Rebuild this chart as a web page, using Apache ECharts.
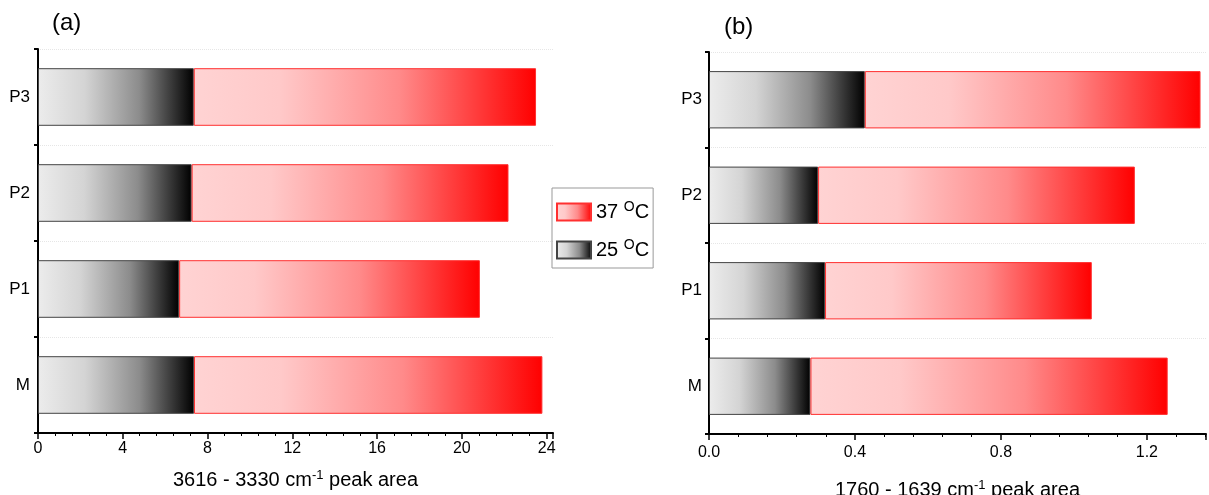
<!DOCTYPE html>
<html><head><meta charset="utf-8">
<script src="https://cdn.jsdelivr.net/npm/echarts@6/dist/echarts.min.js"></script>
<style>html,body{margin:0;padding:0;background:#fff}#c{width:1209px;height:495px}</style>
</head><body><div id="c"></div>
<script>
const categories = ['M', 'P1', 'P2', 'P3'];
// panel (a): 3616 - 3330 cm-1 peak area
const a25 = [7.36, 6.66, 7.25, 7.35];
const a37 = [23.8, 20.85, 22.2, 23.5];
// panel (b): 1760 - 1639 cm-1 peak area
const b25 = [0.278, 0.318, 0.299, 0.427];
const b37 = [1.257, 1.049, 1.167, 1.347];
const aTicks = [0, 4, 8, 12, 16, 20, 24];
const bTicks = [0.0, 0.4, 0.8, 1.2];

const FONT = 'Liberation Sans, Arial, sans-serif';
const grayGrad = new echarts.graphic.LinearGradient(0, 0, 1, 0, [
  {offset: 0, color: '#ececec'}, {offset: 0.3, color: '#d4d4d4'},
  {offset: 0.65, color: '#8c8c8c'}, {offset: 1, color: '#000000'}]);
const redGrad = new echarts.graphic.LinearGradient(0, 0, 1, 0, [
  {offset: 0, color: '#ffd3d3'}, {offset: 0.25, color: '#ffc9c9'},
  {offset: 0.6, color: '#ff8a8a'}, {offset: 1, color: '#ff0000'}]);

const seg = (tot, base) => tot.map((v, i) => +(v - base[i]).toFixed(4));

function xAx(idx, max, interval, fmt, name, gap, margin) {
  return {
    gridIndex: idx, type: 'value', min: 0, max: max, interval: interval,
    axisLine: {show: true, lineStyle: {color: '#000', width: 2}},
    axisTick: {show: true, length: 6, lineStyle: {color: '#000', width: 1.5}},
    minorTick: {show: true, splitNumber: 5, length: 3, lineStyle: {color: '#000', width: 1}},
    axisLabel: {show: true, showMaxLabel: false, color: '#000', fontSize: 16, fontFamily: FONT, margin: margin, formatter: fmt},
    splitLine: {show: false},
    name: name, nameLocation: 'middle', nameGap: gap,
    nameTextStyle: {color: '#000', fontSize: 20, fontFamily: FONT, rich: {sup: {fontSize: 13, fontFamily: FONT, color: '#000', verticalAlign: 'top', padding: [0, 0, 10, 0]}}}
  };
}
function yAx(idx, margin) {
  return {
    gridIndex: idx, type: 'category', data: categories,
    axisLine: {show: true, lineStyle: {color: '#000', width: 2}},
    axisTick: {show: true, length: 4, lineStyle: {color: '#000', width: 2}},
    axisLabel: {color: '#000', fontSize: 17, fontFamily: FONT, margin: margin},
    splitLine: {show: true, lineStyle: {color: '#e6e6e6', type: 'dotted', width: 1}}
  };
}
function bars(idx, v25, v37) {
  return [
    {name: '25 oC', type: 'bar', stack: 's' + idx, xAxisIndex: idx, yAxisIndex: idx, barWidth: '60%',
     data: v25, itemStyle: {color: grayGrad, borderColor: '#444', borderWidth: 1}},
    {name: '37 oC', type: 'bar', stack: 's' + idx, xAxisIndex: idx, yAxisIndex: idx, barWidth: '60%',
     data: seg(v37, v25), itemStyle: {color: redGrad, borderColor: '#ff3030', borderWidth: 1}}
  ];
}

const chart = echarts.init(document.getElementById('c'));
chart.setOption({
  animation: false,
  backgroundColor: '#fff',
  title: [
    {text: '(a)', left: 47, top: 6, textStyle: {fontSize: 24, fontWeight: 'normal', fontFamily: FONT, color: '#000'}},
    {text: '(b)', left: 719, top: 10, textStyle: {fontSize: 24, fontWeight: 'normal', fontFamily: FONT, color: '#000'}}
  ],
  legend: {
    data: ['37 oC', '25 oC'], orient: 'vertical', left: 552, top: 188,
    padding: [12, 4, 8, 4], itemGap: 16, itemWidth: 34, itemHeight: 17,
    borderColor: '#999', borderWidth: 1, icon: 'rect',
    formatter: n => n.split(' ')[0] + ' {sup|O}C',
    textStyle: {fontSize: 20, fontFamily: FONT, color: '#000', rich: {sup: {fontSize: 14, fontFamily: FONT, color: '#000', verticalAlign: 'top', padding: [0, 0, 10, 0]}}}
  },
  grid: [
    {left: 38, top: 49, right: 656, bottom: 62, containLabel: false, outerBoundsMode: 'none'},
    {left: 709, top: 52, right: 3, bottom: 61, containLabel: false, outerBoundsMode: 'none'}
  ],
  xAxis: [
    xAx(0, 24.3, 4, v => (aTicks.indexOf(v) >= 0 ? String(v) : ''), '3616 - 3330 cm{sup|-1} peak area', 36, 8),
    xAx(1, 1.362, 0.4, v => v.toFixed(1), '1760 - 1639 cm{sup|-1} peak area', 45, 11)
  ],
  yAxis: [yAx(0, 8), yAx(1, 7)],
  series: [].concat(bars(0, a25, a37), bars(1, b25, b37))
});
</script></body></html>
